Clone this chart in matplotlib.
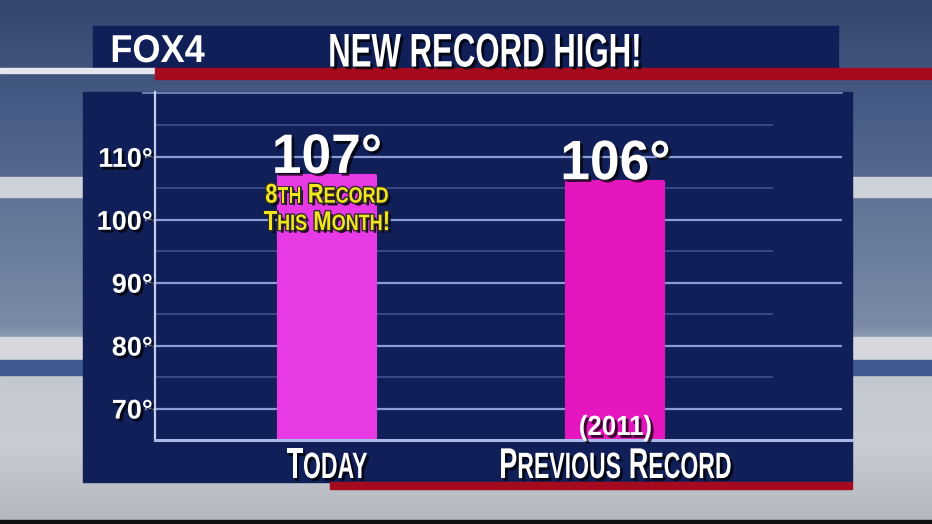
import numpy as np
import matplotlib
matplotlib.use("Agg")
import matplotlib.pyplot as plt
import matplotlib.patheffects as pe
from matplotlib.patches import Rectangle
from matplotlib.transforms import Affine2D
from matplotlib.colors import LinearSegmentedColormap
from matplotlib.offsetbox import TextArea, HPacker, VPacker, AnnotationBbox

# data
categories = ["Today", "Previous Record"]
highs = [107, 106]
value_labels = ["107°", "106°"]
today_note = ["8th Record", "This Month!"]
record_year = "(2011)"
yticks = [70, 80, 90, 100, 110]
minor_yticks = [75, 85, 95, 105, 115]

# colours / fonts
navy = "#111f59"
red = "#a50a1e"
bar_colors = ["#e83ae4", "#e616be"]
yellow = "#f3e61e"
BOLD = ["Liberation Sans", "DejaVu Sans"]


class Squeeze(pe.AbstractPathEffect):
    """Narrow the glyphs horizontally (condensed look) around cx (display px)."""

    def __init__(self, sx, inner, cx=None):
        super().__init__()
        self.sx, self.inner, self.cx = sx, inner, cx

    def draw_path(self, renderer, gc, tpath, affine, rgbFace=None):
        cx = self.cx
        if cx is None:
            ext = tpath.get_extents(affine)
            cx = (ext.x0 + ext.x1) / 2
        sq = Affine2D().translate(-cx, 0).scale(self.sx, 1).translate(cx, 0)
        new = (affine + sq).frozen()
        for e in self.inner:
            e.draw_path(renderer, gc, tpath, new, rgbFace)


def shadow():
    return [pe.SimplePatchShadow(offset=(2, -2), shadow_rgbFace="black", alpha=0.75), pe.Normal()]


def outline():
    return [pe.SimplePatchShadow(offset=(2, -2), shadow_rgbFace="black", alpha=0.85),
            pe.Stroke(linewidth=2, foreground="#2b2b2b"), pe.Normal()]


W, H = 932, 524
fig = plt.figure(figsize=(W / 100, H / 100), dpi=100)

# background "studio" layer, in pixel coords (y down)
bg = fig.add_axes([0, 0, 1, 1], zorder=0)
bg.set_xlim(0, W)
bg.set_ylim(H, 0)
bg.axis("off")
sky = LinearSegmentedColormap.from_list("sky", [
    (0, "#33466d"), (0.2, "#465b85"), (0.33, "#55688f"), (0.38, "#607497"),
    (0.62, "#7a8aa8"), (0.64, "#8a98b2"), (0.715, "#c4c8d0"), (0.85, "#c9ccd2"),
    (1.0, "#b2b6be")])
bg.imshow(np.linspace(0, 1, 256)[:, None], cmap=sky, aspect="auto",
          extent=(0, W, H, 0), zorder=0)
bg.add_patch(Rectangle((0, 177), W, 20, color="#cdd1d8", zorder=1))
bg.add_patch(Rectangle((0, 337), W, 23, color="#d6d8dd", zorder=1))
bg.add_patch(Rectangle((0, 360), W, 15, color="#3f5b92", zorder=1))
bg.add_patch(Rectangle((0, 520), W, 4, color="#111111", zorder=1))

# header
bg.add_patch(Rectangle((93, 26), 745, 42, color=navy, zorder=2))
bg.add_patch(Rectangle((0, 68), 155, 5, color="#e6e7ee", zorder=2))
bg.add_patch(Rectangle((155, 68), W - 155, 11, color=red, zorder=2))
bg.text(157.5, 62, "FOX4", color="white", fontsize=28, weight="bold",
        family=BOLD, va="baseline", ha="center", zorder=3,
        path_effects=[Squeeze(0.93, [pe.Normal()])])
bg.text(485, 66.5, "NEW RECORD HIGH!", color="white", fontsize=34, weight="bold",
        family=BOLD, va="baseline", ha="center", zorder=3,
        path_effects=[Squeeze(0.66, shadow())])

# chart panel
bg.add_patch(Rectangle((83, 92), 769, 390, color=navy, zorder=2))
bg.add_patch(Rectangle((330, 482), 522, 7, color=red, zorder=2))
bg.plot([143, 842], [92.5, 92.5], color="#7f90c8", lw=1.2, zorder=3)

# chart axes
ax = fig.add_axes([155 / W, 1 - 440 / H, 697 / W, 348 / H], zorder=1)
ax.patch.set_alpha(0)
x = np.arange(len(categories))
ax.set_xlim(-0.596, 1.82)
ax.set_ylim(65, 120.3)

tr = ax.get_yaxis_transform()
ax.hlines(yticks, -0.0143, 0.9857, transform=tr, colors="#8b9bd3", lw=1.6,
          clip_on=False, zorder=1)
ax.hlines(minor_yticks, 0, 0.887, transform=tr, colors="#3a4b8b", lw=1.3,
          zorder=1)

ax.bar(x, [h - 65 for h in highs], bottom=65, width=0.333, color=bar_colors,
       edgecolor=bar_colors, linewidth=3, joinstyle="round", zorder=3)

for s in ["top", "right"]:
    ax.spines[s].set_visible(False)
ax.spines["left"].set_color("#c5cdea")
ax.spines["left"].set_linewidth(1.6)
ax.spines["bottom"].set_color("#aab8e8")
ax.spines["bottom"].set_linewidth(2.2)
ax.spines["bottom"].set_zorder(4)

ax.set_yticks(yticks, [f"{v}°" for v in yticks])
ax.tick_params(axis="y", length=0, pad=1.5, labelsize=19.5, labelcolor="white")
for lbl in ax.get_yticklabels():
    lbl.set_fontfamily(BOLD)
    lbl.set_fontweight("bold")
    lbl.set_path_effects(shadow())
ax.set_xticks(x, ["" for _ in categories])
ax.tick_params(axis="x", length=0)


def small_caps(text, size, color, effects, sx, cx, ratio=0.8):
    parts, cur, cur_small = [], "", None
    for ch in text:
        sm = ch.islower()
        if cur and sm != cur_small:
            parts.append((cur, cur_small))
            cur = ""
        cur += ch.upper()
        cur_small = sm
    parts.append((cur, cur_small))
    areas = [TextArea(p, textprops=dict(size=size * (ratio if sm else 1), color=color,
                                        family=BOLD, weight="bold",
                                        path_effects=[Squeeze(sx, effects, cx)]))
             for p, sm in parts]
    return HPacker(children=areas, align="baseline", pad=0, sep=0)


def xpix(xi):
    return ax.transData.transform((xi, 70))[0]


# category labels
for xi, cat in zip(x, categories):
    box = small_caps(cat, 31, "white", shadow(), 0.63, xpix(xi), ratio=0.85)
    ab = AnnotationBbox(box, (xi, 487), xycoords=("data", bg.transData),
                        box_alignment=(0.5, 0), frameon=False, pad=0,
                        annotation_clip=False, zorder=5)
    ax.add_artist(ab)

# value labels above bars
for xi, h, lab in zip(x, highs, value_labels):
    ax.annotate(lab, (xi, h), xytext=(0, 2), textcoords="offset points",
                ha="center", va="baseline", color="white", fontsize=40,
                weight="bold", family=BOLD, zorder=6,
                path_effects=[Squeeze(0.96, shadow())])

# notes
note = VPacker(children=[small_caps(t, 19.5, yellow, outline(), 0.81, xpix(x[0]), ratio=0.82)
                         for t in today_note],
               align="center", pad=0, sep=1)
ax.add_artist(AnnotationBbox(note, (x[0], 236), xycoords=("data", bg.transData),
                             box_alignment=(0.5, 0), frameon=False, pad=0,
                             annotation_clip=False, zorder=6))
ax.annotate(record_year, (x[1], 435), xycoords=("data", bg.transData),
            ha="center", va="baseline", color="white", fontsize=20,
            weight="bold", family=BOLD, zorder=6,
            path_effects=[Squeeze(0.93, shadow())])

fig.savefig("out.png", dpi=100)
plt.close(fig)
